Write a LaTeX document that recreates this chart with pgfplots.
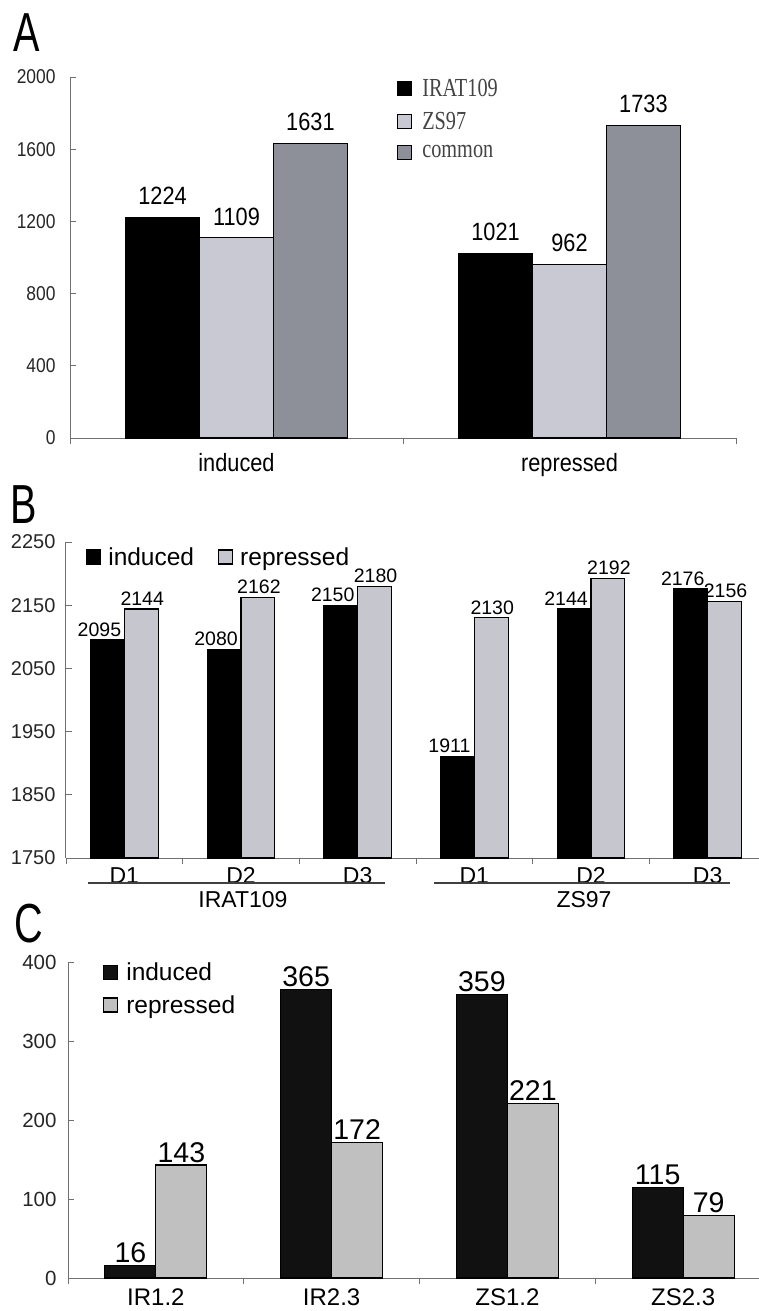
\documentclass[border=0pt]{standalone}
\usepackage{fontspec}
\setmainfont{Liberation Sans}
\newfontfamily\narrowsans{Liberation Sans}[FakeStretch=0.87]
\newfontfamily\legserif{Liberation Serif}[FakeStretch=0.78]
\usepackage{pgfplots}
\pgfplotsset{compat=1.18}
\definecolor{axgray}{HTML}{707070}
\definecolor{lgA}{HTML}{C8C9D3}
\definecolor{dgA}{HTML}{8E9099}
\definecolor{lgB}{HTML}{C6C6CE}
\definecolor{lgC}{HTML}{C0C0C0}
\definecolor{bkC}{HTML}{111111}
\definecolor{legtext}{HTML}{444444}
\newcommand{\fs}[1]{\fontsize{#1}{#1}\selectfont}
\pgfplotsset{
  panel/.style={
    scale only axis, anchor=south west,
    axis x line*=bottom, axis y line*=left,
    axis line style={draw=axgray, line width=1pt},
    tick align=inside, major tick length=6pt,
    tick style={draw=axgray, line width=0.8pt},
    x tick label as interval,
    ybar=0pt,
    /pgf/number format/assume math mode=true,
    /pgf/number format/1000 sep={},
    nodes near coords,
  },
  sq/.style={legend image code/.code={\draw[##1,draw=black,line width=1.1pt] (0pt,-7pt) rectangle (14pt,7pt);}},
}
\pgfplotstableread{
x v1 v2 v3
0 1224 1109 1631
1 1021 962 1733
}\tabA
\pgfplotstableread{
x ind rep
0 2095 2144
1 2080 2162
2 2150 2180
3 1911 2130
4 2144 2192
5 2176 2156
}\tabB
\pgfplotstableread{
x ind rep
0 16 143
1 365 172
2 359 221
3 115 79
}\tabC
\begin{document}
\begin{tikzpicture}
\useasboundingbox (0pt,0pt) rectangle (759pt,-1311pt);
% ---------------- Panel A
\begin{axis}[panel, at={(70pt,-438pt)}, width=666pt, height=361pt,
  xmin=-0.5, xmax=1.5, ymin=0, ymax=2000, clip=false,
  ytick={0,400,...,2000}, xtick={-0.5,0.5,1.5}, xticklabels={induced,repressed},
  bar width=0.222,
  yticklabel style={font=\narrowsans\fs{20}, text=black!85, xshift=-11pt},
  xticklabel style={font=\narrowsans\fs{25}, yshift=-6pt},
  every node near coord/.append style={font=\narrowsans\fs{25}, anchor=south, inner sep=0pt, yshift=12pt, text=black},
  legend style={at={(0.491,0.994)}, anchor=north west, draw=none, fill=none,
    font=\legserif\fs{26}, text=legtext, inner sep=0pt, row sep=14pt,
    nodes={inner sep=0pt, anchor=west},
    /tikz/every odd column/.append style={column sep=10pt}},
  legend cell align=left]
\addplot[fill=black, draw=black, line width=1.1pt, sq] table[x=x,y=v1]{\tabA};
\addplot[fill=lgA, draw=black, line width=1.1pt, sq] table[x=x,y=v2]{\tabA};
\addplot[fill=dgA, draw=black, line width=1.1pt, sq] table[x=x,y=v3]{\tabA};
\legend{IRAT109, ZS97, common}
\end{axis}
% ---------------- Panel B
\begin{axis}[panel, at={(66pt,-858pt)}, width=700pt, height=316pt,
  xmin=-0.5, xmax=5.5, ymin=1750, ymax=2250, clip=true,
  ytick={1750,1850,...,2250}, xtick={-0.5,0.5,...,5.5}, xticklabels={D1,D2,D3,D1,D2,D3},
  bar width=0.29,
  yticklabel style={font=\fs{20}, text=black!85, xshift=-7pt},
  xticklabel style={font=\fs{23}},
  every node near coord/.append style={font=\fs{19.5}, anchor=south, inner sep=0pt, yshift=3pt, text=black},
  legend style={at={(0.0286,0.9525)}, anchor=west, draw=none, fill=none,
    font=\fs{24.5}, inner sep=0pt,
    nodes={inner sep=0pt, anchor=west},
    /tikz/every odd column/.append style={column sep=7pt},
    /tikz/every even column/.append style={column sep=24pt}},
  legend columns=2]
\addplot[fill=black, draw=black, line width=1.1pt, sq, every node near coord/.append style={xshift=-8pt}] table[x=x,y=ind]{\tabB};
\addplot[fill=lgB, draw=black, line width=1.1pt, sq, every node near coord/.append style={xshift=1pt}] table[x=x,y=rep]{\tabB};
\legend{induced, repressed}
\end{axis}
% ---------------- Panel C
\begin{axis}[panel, at={(68pt,-1278pt)}, width=703pt, height=316pt,
  xmin=-0.5, xmax=3.5, ymin=0, ymax=400, clip=false,
  ytick={0,100,...,400}, xtick={-0.5,0.5,...,3.5}, xticklabels={IR1.2,IR2.3,ZS1.2,ZS2.3},
  bar width=0.29,
  yticklabel style={font=\fs{20.5}, text=black!85, xshift=-8pt},
  xticklabel style={font=\fs{24}, inner sep=1pt, yshift=-4pt},
  every node near coord/.append style={font=\fs{28.5}, anchor=south, inner sep=0pt, yshift=2pt, text=black},
  legend style={at={(0.0498,0.997)}, anchor=north west, draw=none, fill=none,
    font=\fs{24.5}, inner sep=0pt, row sep=13pt,
    nodes={inner sep=0pt, anchor=west},
    /tikz/every odd column/.append style={column sep=8pt}},
  legend cell align=left]
\addplot[fill=bkC, draw=black, line width=1.1pt, sq] table[x=x,y=ind]{\tabC};
\addplot[fill=lgC, draw=black, line width=1.1pt, sq] table[x=x,y=rep]{\tabC};
\legend{induced, repressed}
\end{axis}
% ---------------- annotations
\node[anchor=north west, inner sep=0pt] at (13pt,-13pt) {\fs{55}\scalebox{0.72}[1]{A}};
\node[anchor=north west, inner sep=0pt] at (10pt,-485pt) {\fs{55}\scalebox{0.72}[1]{B}};
\node[anchor=north west, inner sep=0pt] at (14pt,-904pt) {\fs{55}\scalebox{0.72}[1]{C}};
\draw[line width=1.6pt, black!75] (88pt,-883pt) -- (385pt,-883pt);
\draw[line width=1.6pt, black!75] (434pt,-883pt) -- (730pt,-883pt);
\node[font=\fs{23}] at (243pt,-900pt) {IRAT109};
\node[font=\fs{23}] at (584pt,-900pt) {ZS97};
\end{tikzpicture}
\end{document}
